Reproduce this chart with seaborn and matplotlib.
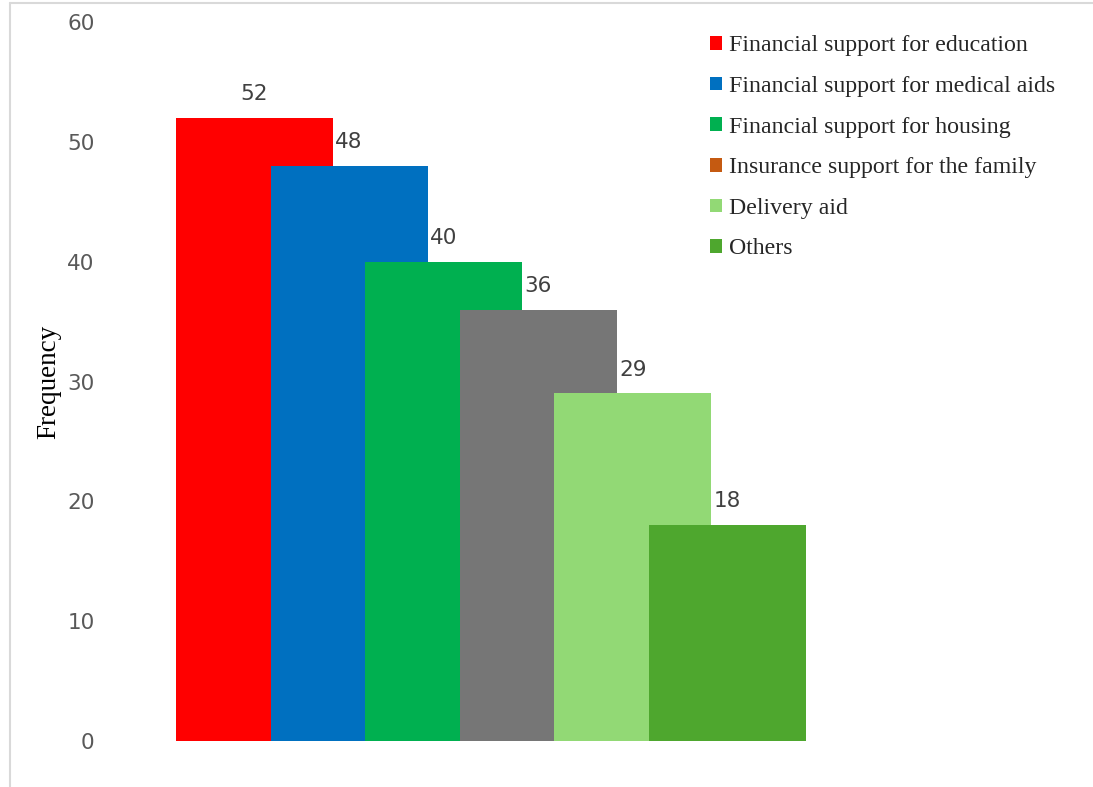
import matplotlib
matplotlib.use("Agg")
import matplotlib.pyplot as plt
from matplotlib.patches import Patch
from matplotlib.lines import Line2D
import seaborn as sns
import pandas as pd

categories = [
    "Financial support for education",
    "Financial support for medical aids",
    "Financial support for housing",
    "Insurance support for the family",
    "Delivery aid",
    "Others",
]
frequency = [52, 48, 40, 36, 29, 18]
bar_colors = ["#FF0000", "#0070C0", "#00B050", "#767676", "#92D975", "#4EA72E"]
legend_colors = ["#FF0000", "#0070C0", "#00B050", "#C55A11", "#92D975", "#4EA72E"]
y_ticks = [0, 10, 20, 30, 40, 50, 60]

sns.set_theme(style="white")
plt.rcParams["font.family"] = ["DejaVu Sans"]

W, H = 1093, 787
fig = plt.figure(figsize=(W / 100, H / 100), dpi=100)
ax_left, ax_right, ax_bottom, ax_top = 100, 1080, 741, 22
ax = fig.add_axes([ax_left / W, 1 - ax_bottom / H,
                   (ax_right - ax_left) / W, (ax_bottom - ax_top) / H])

df = pd.DataFrame({"category": categories, "frequency": frequency})
sns.barplot(data=df, x="category", y="frequency", hue="category",
            order=categories, hue_order=categories, palette=bar_colors,
            width=1.66, saturation=1, legend=False, ax=ax, linewidth=0)

for cont in ax.containers:
    ax.bar_label(cont, fmt="%g", padding=10, fontsize=15.5, color="#404040")

ax.set_ylim(0, 60)
ax.set_xlim(-1.633, 8.726)
ax.set_yticks(y_ticks)
ax.tick_params(axis="y", length=0, pad=4, labelsize=15.5, labelcolor="#595959")
ax.set_xticks([])
ax.set_xlabel("")
ax.set_ylabel("Frequency", family="Liberation Serif", fontsize=19.5, color="black")
ax.yaxis.set_label_coords((61 - ax_left) / (ax_right - ax_left), 0.5)
for s in ax.spines.values():
    s.set_visible(False)

handles = [Patch(facecolor=c, edgecolor="none") for c in legend_colors]
fig.legend(handles, categories, loc="upper left",
           bbox_to_anchor=(710 / W, 1 - 35.5 / H), frameon=False,
           prop={"family": "Liberation Serif", "size": 17.2},
           handlelength=0.5, handleheight=0.5, handletextpad=0.3,
           labelspacing=0.82, borderaxespad=0, borderpad=0)

# thin frame lines along the top and left of the canvas
fig.add_artist(Line2D([10 / W, 1], [1 - 2.5 / H, 1 - 2.5 / H],
                      transform=fig.transFigure, color="#D9D9D9", linewidth=1.5))
fig.add_artist(Line2D([10 / W, 10 / W], [0, 1 - 2.5 / H],
                      transform=fig.transFigure, color="#D9D9D9", linewidth=1.5))

fig.savefig("out.png", dpi=100, facecolor="white")
